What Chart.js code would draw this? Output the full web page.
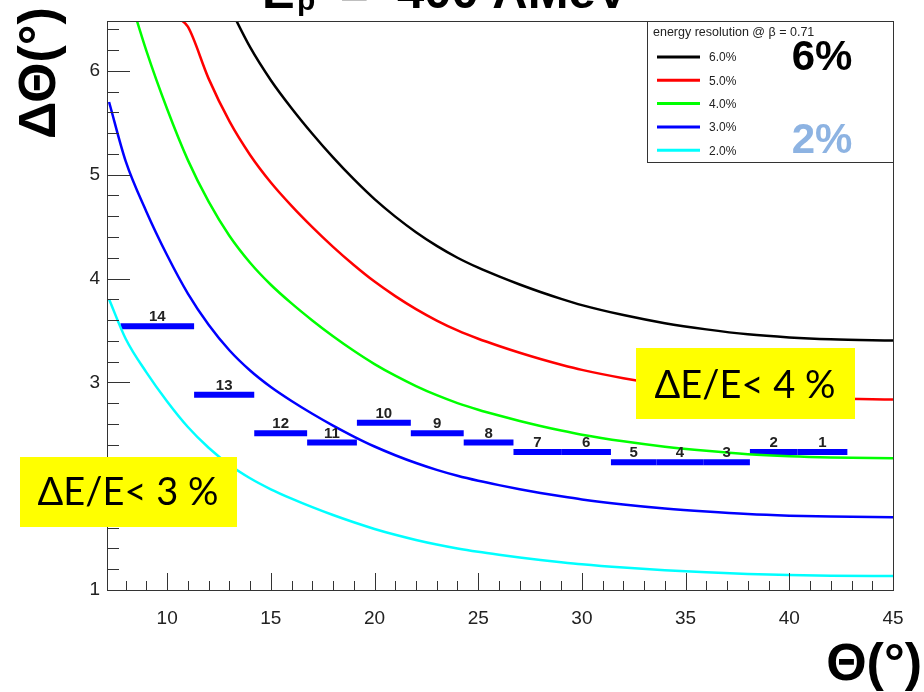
<!DOCTYPE html>
<html>
<head>
<meta charset="utf-8">
<script src="https://cdn.jsdelivr.net/npm/chart.js@4.4.1/dist/chart.umd.min.js"></script>
<style>
  html, body { margin: 0; padding: 0; background: #fff; }
  #wrap { width: 924px; height: 692px; }
</style>
</head>
<body>
<div id="wrap"><canvas id="c" width="924" height="692"></canvas></div>
<script>
// energy resolution curves
const curveLabels = ['6.0%', '5.0%', '4.0%', '3.0%', '2.0%'];
const curveColors = ['#000000', '#ff0000', '#00ff00', '#0000ff', '#00ffff'];

const theta6 = [13, 14, 15, 16, 17, 18, 19, 20, 21, 22, 23, 24, 25, 26, 27, 28, 29, 30, 32, 34, 36, 38, 40, 42, 45];
const res6 = [6.618, 6.228, 5.910, 5.640, 5.394, 5.166, 4.956, 4.764, 4.596, 4.446, 4.314, 4.200, 4.104, 4.020, 3.942, 3.870, 3.804, 3.744, 3.648, 3.570, 3.510, 3.462, 3.432, 3.414, 3.402];

const theta5 = [10.6, 11, 12, 13, 14, 15, 16, 17, 18, 19, 20, 21, 22, 23, 24, 25, 26, 27, 28, 29, 30, 32, 34, 36, 38, 40, 42, 45];
const res5 = [6.500, 6.425, 5.925, 5.515, 5.190, 4.925, 4.700, 4.495, 4.305, 4.130, 3.970, 3.830, 3.705, 3.595, 3.500, 3.420, 3.350, 3.285, 3.225, 3.170, 3.120, 3.040, 2.975, 2.925, 2.885, 2.860, 2.845, 2.835];

const theta4 = [8, 9, 10, 11, 12, 13, 14, 15, 16, 17, 18, 19, 20, 21, 22, 23, 24, 25, 26, 27, 28, 29, 30, 32, 34, 36, 38, 40, 42, 45];
const res4 = [6.840, 6.192, 5.632, 5.140, 4.740, 4.412, 4.152, 3.940, 3.760, 3.596, 3.444, 3.304, 3.176, 3.064, 2.964, 2.876, 2.800, 2.736, 2.680, 2.628, 2.580, 2.536, 2.496, 2.432, 2.380, 2.340, 2.308, 2.288, 2.276, 2.268];

const theta3 = [7.2, 8, 9, 10, 11, 12, 13, 14, 15, 16, 17, 18, 19, 20, 21, 22, 23, 24, 25, 26, 27, 28, 29, 30, 32, 34, 36, 38, 40, 42, 45];
const res3 = [5.700, 5.130, 4.644, 4.224, 3.855, 3.555, 3.309, 3.114, 2.955, 2.820, 2.697, 2.583, 2.478, 2.382, 2.298, 2.223, 2.157, 2.100, 2.052, 2.010, 1.971, 1.935, 1.902, 1.872, 1.824, 1.785, 1.755, 1.731, 1.716, 1.707, 1.701];

const theta2 = [7.2, 8, 9, 10, 11, 12, 13, 14, 15, 16, 17, 18, 19, 20, 21, 22, 23, 24, 25, 26, 27, 28, 29, 30, 32, 34, 36, 38, 40, 42, 45];
const res2 = [3.800, 3.420, 3.096, 2.816, 2.570, 2.370, 2.206, 2.076, 1.970, 1.880, 1.798, 1.722, 1.652, 1.588, 1.532, 1.482, 1.438, 1.400, 1.368, 1.340, 1.314, 1.290, 1.268, 1.248, 1.216, 1.190, 1.170, 1.154, 1.144, 1.138, 1.134];

// detector strips (blue segments)
const stripNames = ['14', '13', '12', '11', '10', '9', '8', '7', '6', '5', '4', '3', '2', '1'];
const stripStart = [7.75, 11.3, 14.2, 16.75, 19.15, 21.75, 24.3, 26.7, 29.0, 31.4, 33.6, 35.85, 38.1, 40.4];
const stripEnd = [11.3, 14.2, 16.75, 19.15, 21.75, 24.3, 26.7, 29.0, 31.4, 33.6, 35.85, 38.1, 40.4, 42.8];
const stripValue = [3.54, 2.88, 2.51, 2.42, 2.61, 2.51, 2.42, 2.33, 2.33, 2.23, 2.23, 2.23, 2.33, 2.33];

const xTicks = [10, 15, 20, 25, 30, 35, 40, 45];
const yTicks = [1, 2, 3, 4, 5, 6];

const FONT = '"Liberation Sans", Arial, sans-serif';

function pts(xs, ys) {
  return xs.map(function (x, i) { return { x: x, y: ys[i] }; });
}

const curveX = [theta6, theta5, theta4, theta3, theta2];
const curveY = [res6, res5, res4, res3, res2];

const datasets = [];
curveLabels.forEach(function (lab, i) {
  datasets.push({
    label: lab,
    data: pts(curveX[i], curveY[i]),
    borderColor: curveColors[i],
    borderWidth: 2.5,
    pointRadius: 0,
    cubicInterpolationMode: 'monotone',
    fill: false,
  });
});
stripNames.forEach(function (n, i) {
  datasets.push({
    label: 'strip ' + n,
    data: [{ x: stripStart[i], y: stripValue[i] }, { x: stripEnd[i], y: stripValue[i] }],
    borderColor: '#0000ff',
    borderWidth: 6,
    borderCapStyle: 'butt',
    pointRadius: 0,
    fill: false,
  });
});

const rootDecor = {
  id: 'rootDecor',
  beforeDraw: function (chart) {
    const ctx = chart.ctx;
    ctx.save();
    ctx.fillStyle = '#ffffff';
    ctx.fillRect(0, 0, chart.width, chart.height);
    ctx.restore();
  },
  afterDatasetsDraw: function (chart) {
    const ctx = chart.ctx;
    const a = chart.chartArea;
    const xs = chart.scales.x;
    const ys = chart.scales.y;
    ctx.save();

    // strip numbers
    ctx.fillStyle = '#222';
    ctx.font = 'bold 15px ' + FONT;
    ctx.textAlign = 'center';
    ctx.textBaseline = 'alphabetic';
    stripNames.forEach(function (n, i) {
      const px = xs.getPixelForValue((stripStart[i] + stripEnd[i]) / 2);
      const py = ys.getPixelForValue(stripValue[i]) - 5;
      ctx.fillText(n, px, py);
    });

    // frame
    ctx.strokeStyle = '#333';
    ctx.lineWidth = 1;
    ctx.strokeRect(Math.round(a.left) + 0.5, Math.round(a.top) + 0.5,
      Math.round(a.right - a.left), Math.round(a.bottom - a.top));

    // ticks inside the frame
    ctx.beginPath();
    for (let v = 8; v <= 45; v++) {
      const px = Math.round(xs.getPixelForValue(v)) + 0.5;
      const len = v % 5 === 0 ? 17 : 9;
      ctx.moveTo(px, a.bottom);
      ctx.lineTo(px, a.bottom - len);
    }
    for (let k = 6; k <= 32; k++) {
      const v = k / 5;
      const py = Math.round(ys.getPixelForValue(v)) + 0.5;
      const len = k % 5 === 0 ? 23 : 12;
      ctx.moveTo(a.left, py);
      ctx.lineTo(a.left + len, py);
    }
    ctx.stroke();
    ctx.restore();
  },
  afterDraw: function (chart) {
    const ctx = chart.ctx;
    ctx.save();

    // legend box
    const lx = 647, ly = 21, lw = 246, lh = 141;
    ctx.fillStyle = '#fff';
    ctx.fillRect(lx, ly, lw, lh);
    ctx.strokeStyle = '#333';
    ctx.lineWidth = 1;
    ctx.strokeRect(lx + 0.5, ly + 0.5, lw, lh);
    ctx.fillStyle = '#222';
    ctx.font = '12.5px ' + FONT;
    ctx.textAlign = 'left';
    ctx.textBaseline = 'alphabetic';
    ctx.fillText('energy resolution @ \u03b2 = 0.71', 653, 36);
    ctx.font = '12px ' + FONT;
    ctx.textBaseline = 'middle';
    for (let i = 0; i < curveLabels.length; i++) {
      const ds = chart.data.datasets[i];
      const yy = 57 + i * 23.3;
      ctx.strokeStyle = ds.borderColor;
      ctx.lineWidth = 3;
      ctx.beginPath();
      ctx.moveTo(657, yy);
      ctx.lineTo(700, yy);
      ctx.stroke();
      ctx.fillStyle = '#222';
      ctx.fillText(ds.label, 709, yy + 1);
    }

    // big percentages
    ctx.textAlign = 'center';
    ctx.textBaseline = 'alphabetic';
    ctx.font = 'bold 42px ' + FONT;
    ctx.fillStyle = '#000';
    ctx.fillText('6%', 822, 70);
    ctx.fillStyle = '#8db3e2';
    ctx.fillText('2%', 822, 153);

    // yellow boxes
    ctx.fillStyle = '#ffff00';
    ctx.fillRect(636, 348, 219, 71);
    ctx.fillRect(20, 457, 217, 70);
    ctx.fillStyle = '#000';
    ctx.font = '38px Lato, "Open Sans", sans-serif';
    ctx.textAlign = 'center';
    ctx.fillText('\u0394E/E< 4 %', 745, 398);
    ctx.fillText('\u0394E/E< 3 %', 128, 505);

    // axis titles
    ctx.font = 'bold 52px ' + FONT;
    ctx.fillStyle = '#000';
    ctx.save();
    ctx.translate(55, 73);
    ctx.rotate(-Math.PI / 2);
    ctx.textAlign = 'center';
    ctx.fillText('\u0394\u0398(\u00b0)', 0, 0);
    ctx.restore();
    ctx.textAlign = 'right';
    ctx.fillText('\u0398(\u00b0)', 922, 680);

    // title, cut by the top edge
    ctx.textAlign = 'left';
    ctx.font = 'bold 49px ' + FONT;
    ctx.fillText('E', 262, 8);
    ctx.font = 'bold 30px ' + FONT;
    ctx.fillText('p', 297, 10);
    ctx.font = 'bold 49px ' + FONT;
    ctx.fillText('=', 340, 8);
    ctx.fillText('400 AMeV', 397, 8);
    ctx.restore();
  },
};

new Chart(document.getElementById('c'), {
  type: 'line',
  data: { datasets: datasets },
  options: {
    responsive: false,
    devicePixelRatio: 1,
    animation: false,
    layout: { padding: { top: 21, right: 31, left: 0, bottom: 0 } },
    plugins: { legend: { display: false }, tooltip: { enabled: false } },
    scales: {
      x: {
        type: 'linear',
        min: 7.1,
        max: 45,
        grid: { display: false },
        border: { display: false },
        afterBuildTicks: function (s) { s.ticks = xTicks.map(function (v) { return { value: v }; }); },
        afterFit: function (s) { s.height = 102; },
        ticks: { color: '#222', font: { family: FONT, size: 19 }, padding: 9, maxRotation: 0 },
      },
      y: {
        type: 'linear',
        min: 1,
        max: 6.48,
        grid: { display: false },
        border: { display: false },
        afterBuildTicks: function (s) { s.ticks = yTicks.map(function (v) { return { value: v }; }); },
        afterFit: function (s) { s.width = 107; },
        ticks: { color: '#222', font: { family: FONT, size: 19 }, padding: -1 },
      },
    },
  },
  plugins: [rootDecor],
});
</script>
</body>
</html>
